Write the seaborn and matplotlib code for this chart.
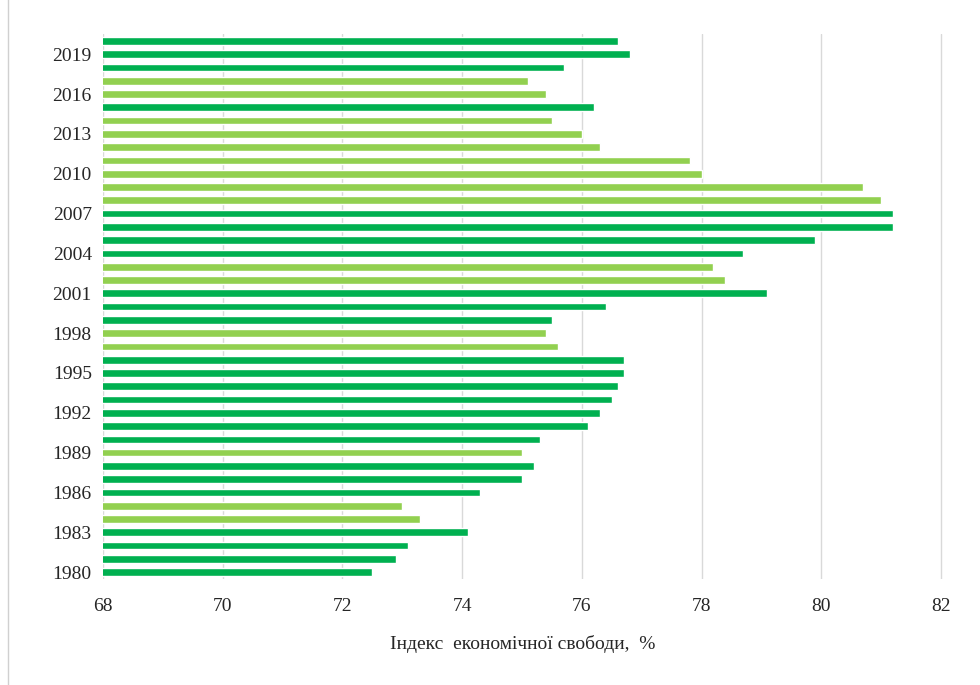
import matplotlib.pyplot as plt
import pandas as pd
import seaborn as sns
from matplotlib.patches import Rectangle

years = list(range(1980, 2021))
index_values = [
    72.5, 72.9, 73.1, 74.1, 73.3, 73.0, 74.3, 75.0, 75.2, 75.0,
    75.3, 76.1, 76.3, 76.5, 76.6, 76.7, 76.7, 75.6, 75.4, 75.5,
    76.4, 79.1, 78.4, 78.2, 78.7, 79.9, 81.2, 81.2, 81.0, 80.7,
    78.0, 77.8, 76.3, 76.0, 75.5, 76.2, 75.4, 75.1, 75.7, 76.8,
    76.6,
]
light_years = [1984, 1985, 1989, 1997, 1998, 2002, 2003,
               2008, 2009, 2010, 2011, 2012, 2013, 2014, 2016, 2017]
label_years = list(range(1980, 2021, 3))
x_ticks = list(range(68, 83, 2))

DARK = "#00b050"
LIGHT = "#92d050"

data = pd.DataFrame({"year": [str(y) for y in years], "value": index_values})
data["group"] = ["light" if y in light_years else "dark" for y in years]
order = [str(y) for y in reversed(years)]

sns.set_theme(style="white")
plt.rcParams["font.family"] = ["Liberation Serif", "DejaVu Serif"]

fig = plt.figure(figsize=(9.8, 6.85), dpi=100)
ax = fig.add_axes([0.105, 0.155, 0.857, 0.795])

sns.barplot(
    data=data, x="value", y="year", hue="group", order=order,
    palette={"dark": DARK, "light": LIGHT}, dodge=False, width=0.58,
    orient="h", legend=False, ax=ax, saturation=1,
)

ax.set_xlim(68, 82.03)
ax.set_xticks(x_ticks)
ax.set_xticklabels([str(t) for t in x_ticks], fontsize=14)
ax.set_yticks([order.index(str(y)) for y in label_years])
ax.set_yticklabels([str(y) for y in label_years], fontsize=14)
ax.tick_params(axis="y", length=0, pad=8)
ax.tick_params(axis="x", length=0, pad=14)
ax.set_ylabel("")
ax.set_xlabel("Індекс  економічної свободи,  %", fontsize=14, labelpad=14)
ax.grid(axis="x", color="#d9d9d9", linewidth=1)
ax.set_axisbelow(True)
for side in ax.spines.values():
    side.set_visible(False)

fig.patches.append(Rectangle((0.008, -0.01), 1.1, 1.1, transform=fig.transFigure,
                             fill=False, edgecolor="#d0d0d0", linewidth=1))

fig.savefig("out.png", dpi=100)
plt.close(fig)
